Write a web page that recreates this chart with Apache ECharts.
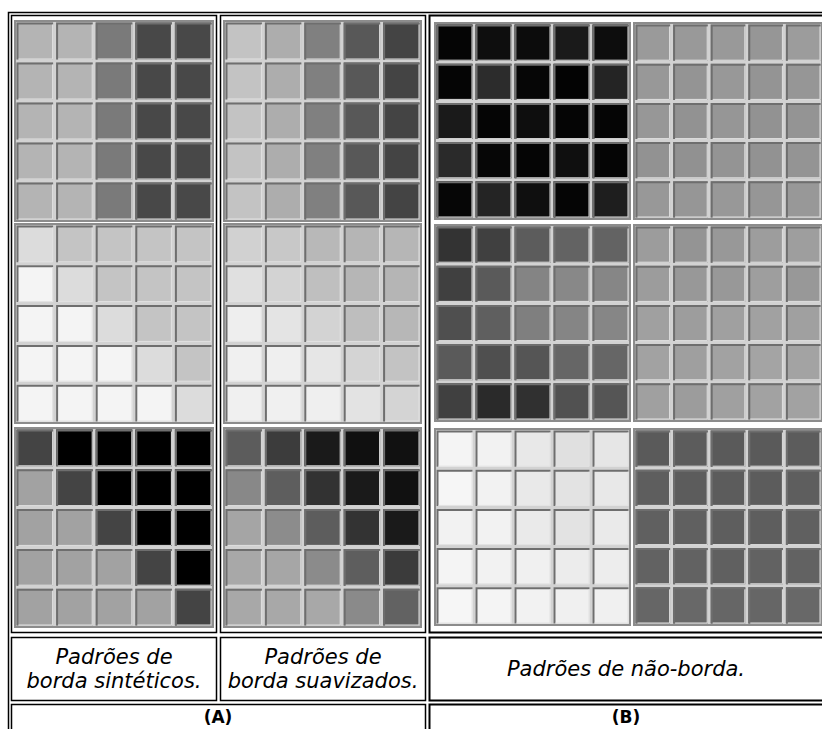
<!DOCTYPE html>
<html>
<head>
<meta charset="utf-8">
<script src="https://cdn.jsdelivr.net/npm/echarts@6/dist/echarts.min.js"></script>
<style>
  html, body { margin: 0; padding: 0; background: #fff; }
  #main { width: 822px; height: 729px; }
</style>
</head>
<body>
<div id="main"></div>
<script>
// niveis de cinza (0-255) de cada padrao 5x5, linha por linha
var cols = ['c1', 'c2', 'c3', 'c4', 'c5'];
var rows = ['l1', 'l2', 'l3', 'l4', 'l5'];

// (A) padroes de borda sinteticos
var sintVertical = [
    [180, 180, 122, 72, 72],
    [180, 180, 122, 72, 72],
    [180, 180, 122, 72, 72],
    [180, 180, 122, 72, 72],
    [180, 180, 122, 72, 72]
];
var sintDiagClaro = [
    [220, 196, 196, 196, 196],
    [244, 220, 196, 196, 196],
    [244, 244, 220, 196, 196],
    [244, 244, 244, 220, 196],
    [244, 244, 244, 244, 220]
];
var sintDiagEscuro = [
    [68, 0, 0, 0, 0],
    [162, 68, 0, 0, 0],
    [162, 162, 68, 0, 0],
    [162, 162, 162, 68, 0],
    [162, 162, 162, 162, 68]
];

// (A) padroes de borda suavizados
var suavVertical = [
    [195, 173, 128, 88, 68],
    [195, 173, 128, 88, 68],
    [195, 173, 128, 88, 68],
    [195, 173, 128, 88, 68],
    [195, 173, 128, 88, 68]
];
var suavDiagClaro = [
    [209, 200, 184, 181, 182],
    [224, 211, 191, 182, 181],
    [238, 228, 211, 190, 183],
    [240, 239, 230, 212, 195],
    [240, 240, 239, 227, 212]
];
var suavDiagEscuro = [
    [92, 60, 26, 16, 17],
    [136, 94, 50, 26, 17],
    [165, 140, 93, 51, 26],
    [168, 166, 139, 94, 59],
    [168, 168, 168, 138, 98]
];

// (B) padroes de nao-borda
var naoBorda1 = [
    [5, 14, 12, 26, 13],
    [5, 44, 6, 3, 36],
    [26, 5, 14, 5, 5],
    [42, 6, 5, 15, 5],
    [6, 36, 15, 5, 30]
];
var naoBorda2 = [
    [154, 153, 153, 150, 156],
    [152, 148, 152, 148, 150],
    [151, 146, 150, 146, 148],
    [146, 145, 148, 146, 148],
    [152, 150, 152, 150, 152]
];
var naoBorda3 = [
    [51, 64, 92, 99, 99],
    [64, 90, 132, 136, 134],
    [79, 95, 127, 133, 134],
    [90, 79, 85, 102, 102],
    [64, 42, 48, 81, 85]
];
var naoBorda4 = [
    [156, 148, 152, 157, 158],
    [156, 152, 152, 158, 152],
    [160, 157, 160, 161, 160],
    [162, 159, 162, 164, 163],
    [160, 156, 160, 162, 162]
];
var naoBorda5 = [
    [244, 242, 232, 224, 230],
    [246, 242, 233, 227, 232],
    [242, 242, 234, 227, 234],
    [244, 242, 240, 236, 237],
    [246, 244, 242, 240, 240]
];
var naoBorda6 = [
    [90, 92, 90, 90, 92],
    [94, 92, 92, 92, 94],
    [96, 96, 94, 94, 96],
    [98, 98, 96, 98, 98],
    [102, 104, 102, 102, 104]
];

var chart = echarts.init(document.getElementById('main'), null, {renderer: 'svg'});

// posicao de cada padrao na tabela
var patches = [
    {data: sintVertical,   left: 15,  top: 21,  width: 198, height: 200},
    {data: sintDiagClaro,  left: 15,  top: 224, width: 198, height: 199},
    {data: sintDiagEscuro, left: 15,  top: 428, width: 198, height: 199},
    {data: suavVertical,   left: 224, top: 21,  width: 197, height: 200},
    {data: suavDiagClaro,  left: 224, top: 224, width: 197, height: 199},
    {data: suavDiagEscuro, left: 224, top: 428, width: 197, height: 199},
    {data: naoBorda1, left: 435, top: 23,  width: 195, height: 196},
    {data: naoBorda2, left: 634, top: 23,  width: 197, height: 196},
    {data: naoBorda3, left: 435, top: 225, width: 195, height: 196},
    {data: naoBorda4, left: 634, top: 225, width: 197, height: 196},
    {data: naoBorda5, left: 435, top: 429, width: 195, height: 196},
    {data: naoBorda6, left: 634, top: 429, width: 197, height: 196}
];

function toCells(m) {
    var out = [];
    for (var r = 0; r < m.length; r++) {
        for (var c = 0; c < m[r].length; c++) {
            out.push([c, r, m[r][c]]);
        }
    }
    return out;
}

function renderCell(params, api) {
    var p = api.coord([api.value(0), api.value(1)]);
    var s = api.size([1, 1]);
    var x = p[0] - s[0] / 2 + 1.5, y = p[1] - s[1] / 2 + 1.5;
    var w = s[0] - 3, h = s[1] - 3;
    var g = api.value(2);
    var col = 'rgb(' + g + ',' + g + ',' + g + ')';
    return {
        type: 'group',
        children: [
            {type: 'rect', shape: {x: x, y: y, width: w, height: h}, style: {fill: col}},
            {type: 'polyline', shape: {points: [[x + 1, y + h], [x + 1, y + 1], [x + w, y + 1]]},
             style: {stroke: '#6e6e6e', lineWidth: 2, fill: null}},
            {type: 'polyline', shape: {points: [[x + w - 0.5, y + 2], [x + w - 0.5, y + h - 0.5], [x + 2, y + h - 0.5]]},
             style: {stroke: '#e2e2e2', lineWidth: 1, fill: null}}
        ]
    };
}

var grids = [], xAxes = [], yAxes = [], series = [];
patches.forEach(function (pt, i) {
    grids.push({
        left: pt.left, top: pt.top, width: pt.width, height: pt.height,
        show: true, backgroundColor: '#d2d2d2', borderColor: '#8c8c8c', borderWidth: 2,
        containLabel: false
    });
    xAxes.push({type: 'category', gridIndex: i, data: cols, show: false});
    yAxes.push({type: 'category', gridIndex: i, data: rows, show: false, inverse: true});
    series.push({
        type: 'custom', xAxisIndex: i, yAxisIndex: i,
        renderItem: renderCell, data: toCells(pt.data), silent: true, animation: false
    });
});

// bordas da tabela
function box(x1, y1, x2, y2, lw) {
    return {
        type: 'rect', silent: true,
        shape: {x: x1, y: y1, width: x2 - x1, height: y2 - y1},
        style: {fill: null, stroke: '#000', lineWidth: lw || 1.5}
    };
}
function caption(txt, x, y, bold) {
    return {
        type: 'text', silent: true, x: x, y: y,
        style: {
            text: txt, fill: '#000', align: 'center', verticalAlign: 'middle',
            font: (bold ? 'bold 17px' : 'italic 21px') + ' "DejaVu Sans", sans-serif',
            lineHeight: 24
        }
    };
}

var graphics = [
    box(8.5, 12.5, 830, 740),
    box(11.5, 15.5, 216.5, 632.5),
    box(220.5, 15.5, 425.5, 632.5),
    box(429.5, 15.5, 830, 632.5, 2),
    box(11.5, 637.5, 216.5, 700.5),
    box(220.5, 637.5, 425.5, 700.5),
    box(429.5, 637.5, 830, 700.5, 2),
    box(11.5, 704.5, 425.5, 740),
    box(429.5, 704.5, 830, 740, 2),
    caption('Padrões de\nborda sintéticos.', 114, 669),
    caption('Padrões de\nborda suavizados.', 323, 669),
    caption('Padrões de não-borda.', 626, 669),
    caption('(A)', 218, 717, true),
    caption('(B)', 626, 717, true)
];

chart.setOption({
    backgroundColor: '#fff',
    animation: false,
    grid: grids,
    xAxis: xAxes,
    yAxis: yAxes,
    series: series,
    graphic: graphics
});
</script>
</body>
</html>
